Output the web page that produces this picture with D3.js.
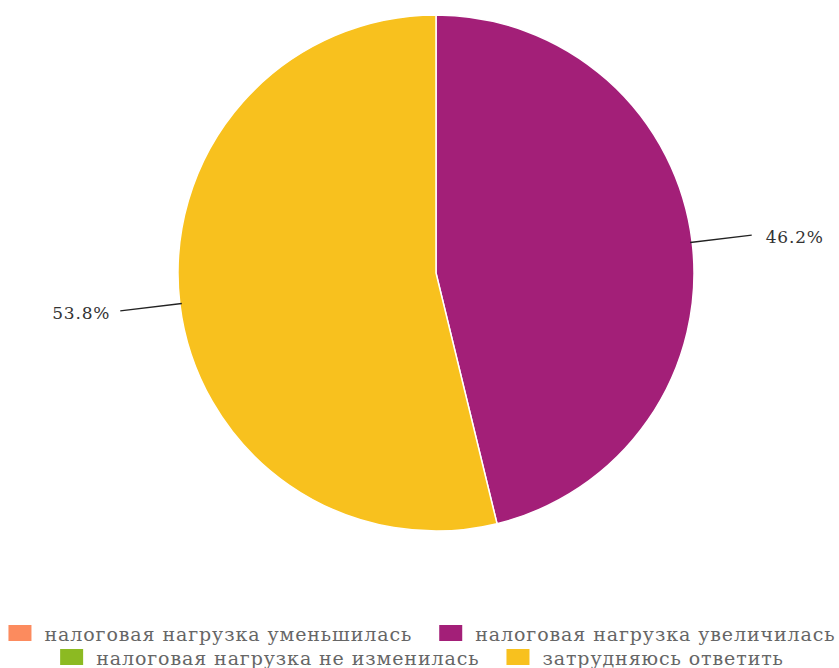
<!DOCTYPE html>
<html><head><meta charset="utf-8">
<script src="https://cdn.jsdelivr.net/npm/d3@7"></script>
<style>body{margin:0;background:#fff}svg{display:block}</style>
</head><body>
<svg id="c" width="839" height="668"></svg>
<script>
const categories = ["налоговая нагрузка уменьшилась","налоговая нагрузка увеличилась","налоговая нагрузка не изменилась","затрудняюсь ответить"];
const values = [0, 46.2, 0, 53.8];
const colors = ["#FC8B5E","#A31F78","#8CBA22","#F8C11E"];

const W = 839, H = 668;
const cx = 436, cy = 273, R = 258;
const FONT = "'DejaVu Serif', 'DejaVu Sans', sans-serif";
const svg = d3.select("#c");
const data = categories.map((c,i)=>({c, v: values[i], col: colors[i]}));
const pie = d3.pie().sort(null).value(d=>d.v);
const arcs = pie(data);
const arc = d3.arc().innerRadius(0).outerRadius(R);
const g = svg.append("g").attr("transform",`translate(${cx},${cy})`);
g.selectAll("path").data(arcs.filter(a=>a.data.v>0)).join("path")
  .attr("d",arc).attr("fill",d=>d.data.col).attr("stroke","#fff").attr("stroke-width",1.5);

const labeled = arcs.filter(a=>a.data.v>0);
labeled.forEach(a=>{
  const m = (a.startAngle+a.endAngle)/2;
  const p = r=>[r*Math.sin(m), -r*Math.cos(m)];
  const [x1,y1]=p(R-2),[x2,y2]=p(R+60);
  g.append("line").attr("x1",x1).attr("y1",y1).attr("x2",x2).attr("y2",y2)
    .attr("stroke","#222").attr("stroke-width",1.3);
  const right = Math.sin(m)>0;
  g.append("text").attr("x", x2 + (right?14:-10)).attr("y", y2+8)
    .attr("text-anchor", right?"start":"end")
    .style("font-family",FONT).attr("font-size",17).style("letter-spacing","0.8px").attr("fill","#333")
    .text(d3.format(".1f")(a.data.v)+"%");
});

// legend
const fs = 19, sw = 23, sh = 16, gapSym = 13, gapItem = 27;
const lg = svg.append("g");
const items = data.map(d=>{
  const t = lg.append("text").style("font-family",FONT).attr("font-size",fs).style("letter-spacing","0.9px").attr("fill","#666").text(d.c);
  return {d, t, w: sw + gapSym + t.node().getComputedTextLength()};
});
const rows=[]; let cur=[], cw=0;
items.forEach(it=>{
  const add = (cur.length?gapItem:0)+it.w;
  if (cur.length && cw+add > W-4){rows.push({items:cur,w:cw}); cur=[it]; cw=it.w;}
  else {cur.push(it); cw+=add;}
});
rows.push({items:cur,w:cw});
const rowBase=[641,665];
rows.forEach((row,ri)=>{
  let x = 422 - row.w/2;
  row.items.forEach(it=>{
    lg.append("rect").attr("x",x).attr("y",rowBase[ri]-sh).attr("width",sw).attr("height",sh).attr("fill",it.d.col);
    it.t.attr("x",x+sw+gapSym).attr("y",rowBase[ri]);
    x += it.w + gapItem;
  });
});
</script>
</body></html>
